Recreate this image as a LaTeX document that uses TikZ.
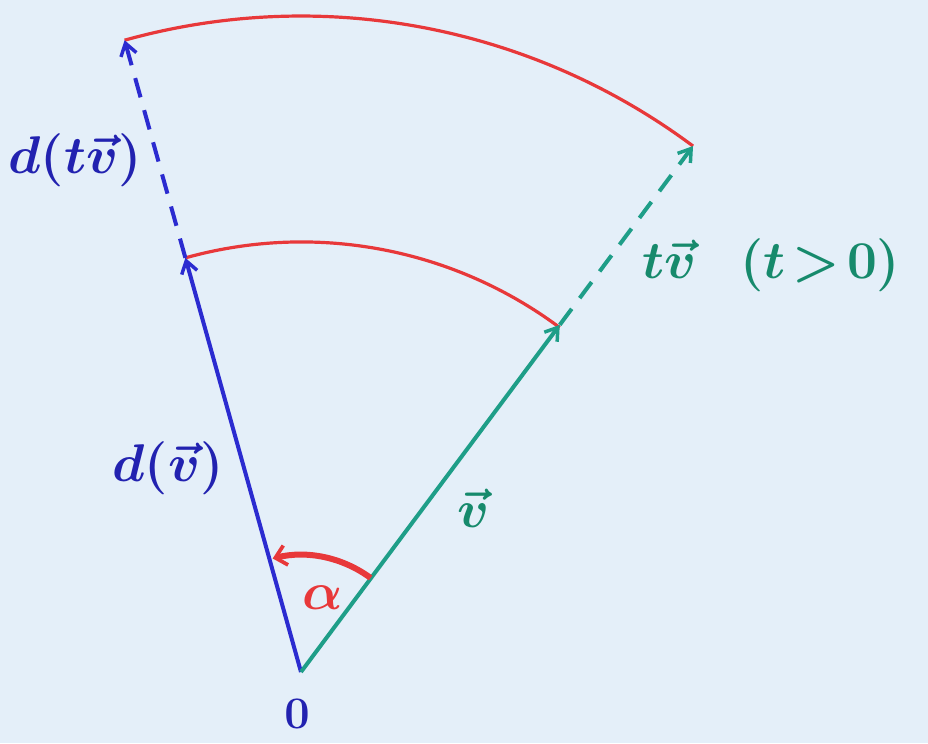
\documentclass[tikz,border=0pt]{standalone}
\usetikzlibrary{arrows.meta}
\definecolor{bgc}{HTML}{E4EFF9}
\definecolor{penblue}{HTML}{2B2BD0}
\definecolor{penteal}{HTML}{1E9E88}
\definecolor{textteal}{HTML}{168A6C}
\definecolor{penred}{HTML}{E8383A}
\definecolor{textblue}{HTML}{2222B0}
\begin{document}
\begin{tikzpicture}[x=0.75pt,y=0.75pt,
  vec/.style={line width=3pt,-{Straight Barb[length=9pt,width=12pt,line width=2.6pt]}},
  dashvec/.style={vec,dash pattern=on 15pt off 10pt},
  arcline/.style={penred,line width=2.4pt},
  lbl/.style={font=\fontsize{24.88}{28}\selectfont\boldmath,scale=1.6}]
\fill[bgc] (-301,-71) rectangle (627,672);
\useasboundingbox (-301,-71) rectangle (627,672);
\coordinate (O) at (0,0);
\coordinate (A) at (105.6:430);
\coordinate (B) at (105.6:656);
\coordinate (C) at (53.3:433);
\coordinate (D) at (53.3:656);
\coordinate (Ar) at (53.5:117);
% red arcs
\draw[arcline] (A) arc[start angle=105.6,end angle=53.3,radius=432];
\draw[arcline] (B) arc[start angle=105.6,end angle=53.3,radius=656];
% vectors
\draw[vec,penblue] (O) -- (A);
\draw[dashvec,penblue] (A) -- (B);
\draw[vec,penteal] (O) -- (C);
\draw[dashvec,penteal] (C) -- (D);
% angle
\draw[penred,line width=4.5pt,-{Straight Barb[length=8pt,width=15pt,line width=2.8pt]}] (Ar) arc[start angle=53.5,end angle=104,radius=117];
% labels
\node[lbl,text=textblue] (lB) at (-226,512) {$d(t\vec v)$};
\node[lbl,text=textblue] (lA) at (-133,204) {$d(\vec v)$};
\node[lbl,text=textteal] (lC) at (172,164) {$\vec v$};
\node[lbl,text=textteal,anchor=west] (lD) at (334,407) {$t\vec v\;\;\,(t\!>\!0)$};
\node[lbl,text=penred] (al) at (22,74) {$\alpha$};
\node[lbl,text=textblue,scale=0.85] (lO) at (-4,-42) {$0$};
\end{tikzpicture}
\end{document}
